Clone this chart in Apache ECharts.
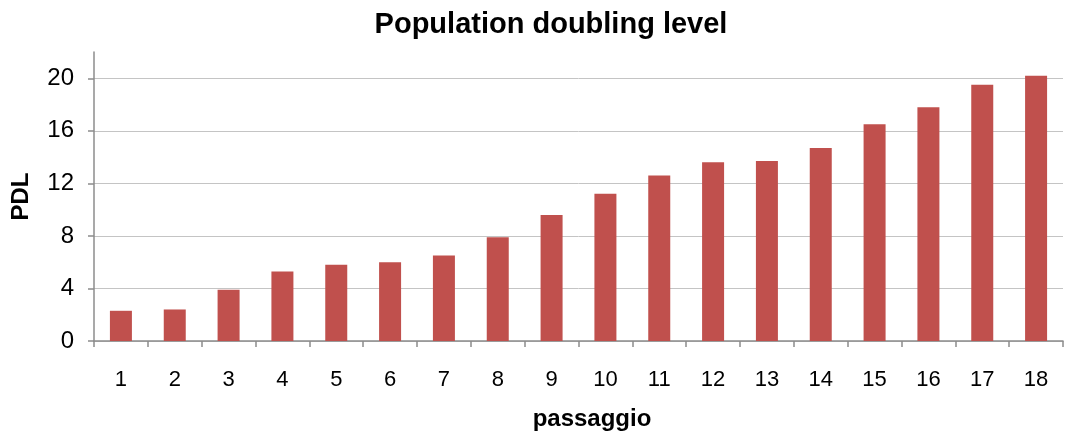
<!DOCTYPE html>
<html>
<head>
<meta charset="utf-8">
<script src="https://cdn.jsdelivr.net/npm/echarts@6/dist/echarts.min.js"></script>
<style>
  html, body { margin: 0; padding: 0; background: #fff; }
  #chart { width: 1065px; height: 436px; }
</style>
</head>
<body>
<div id="chart"></div>
<script>
// Passage numbers and the population doubling level reached at each one
const passages = ['1','2','3','4','5','6','7','8','9','10','11','12','13','14','15','16','17','18'];
const pdlValues = [2.3, 2.4, 3.9, 5.3, 5.8, 6.0, 6.5, 7.9, 9.6, 11.2, 12.6, 13.6, 13.7, 14.7, 16.5, 17.8, 19.5, 20.2];
const yTicks = [0, 4, 8, 12, 16, 20];

const font = 'Liberation Sans, Arial, sans-serif';
const axisGrey = '#8c8c8c';
const gridGrey = '#c4c4c4';

const chart = echarts.init(document.getElementById('chart'));
chart.setOption({
  animation: false,
  title: {
    text: 'Population doubling level',
    left: 546,
    textAlign: 'center',
    top: 5,
    textStyle: { fontFamily: font, fontSize: 29, fontWeight: 'bold', color: '#000' }
  },
  grid: { left: 94, right: 2, top: 52, bottom: 94 },
  xAxis: {
    type: 'category',
    data: passages,
    name: 'passaggio',
    nameLocation: 'middle',
    nameGap: 66,
    nameTextStyle: { fontFamily: font, fontSize: 24, fontWeight: 'bold', color: '#000', padding: [0, 0, 0, 27] },
    axisLine: { lineStyle: { color: axisGrey, width: 1.5 } },
    axisTick: { show: true, alignWithLabel: false, length: 6, lineStyle: { color: axisGrey, width: 1.5 } },
    axisLabel: { fontFamily: font, fontSize: 22, color: '#000', margin: 28 }
  },
  yAxis: {
    type: 'value',
    min: 0,
    max: 22,
    interval: 4,
    name: 'PDL',
    nameLocation: 'middle',
    nameGap: 61,
    nameTextStyle: { fontFamily: font, fontSize: 24, fontWeight: 'bold', color: '#000' },
    axisLine: { show: true, lineStyle: { color: axisGrey, width: 1.5 } },
    axisTick: { show: true, length: 6, customValues: yTicks, lineStyle: { color: axisGrey, width: 1.5 } },
    axisLabel: { fontFamily: font, fontSize: 24, color: '#000', margin: 20, customValues: yTicks },
    splitLine: { show: true, lineStyle: { color: [gridGrey, gridGrey, gridGrey, gridGrey, gridGrey, gridGrey, 'rgba(0,0,0,0)'], width: 1 } }
  },
  series: [{
    type: 'bar',
    data: pdlValues,
    barWidth: 22,
    itemStyle: { color: '#C0504D' }
  }]
});
</script>
</body>
</html>
